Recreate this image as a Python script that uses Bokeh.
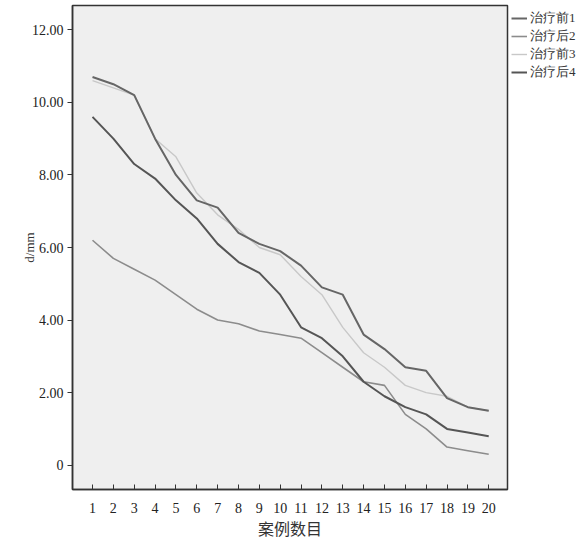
from bokeh.plotting import figure
from bokeh.models import Range1d, FixedTicker, Legend, LegendItem
from bokeh.embed import file_html
from bokeh.resources import INLINE

cases = list(range(1, 21))
pre1 = [10.7, 10.5, 10.2, 9.0, 8.0, 7.3, 7.1, 6.4, 6.1, 5.9, 5.5, 4.9, 4.7, 3.6, 3.2, 2.7, 2.6, 1.85, 1.6, 1.5]
post2 = [6.2, 5.7, 5.4, 5.1, 4.7, 4.3, 4.0, 3.9, 3.7, 3.6, 3.5, 3.1, 2.7, 2.3, 2.2, 1.4, 1.0, 0.5, 0.4, 0.3]
pre3 = [10.6, 10.4, 10.2, 9.0, 8.5, 7.5, 6.9, 6.5, 6.0, 5.8, 5.2, 4.7, 3.8, 3.1, 2.7, 2.2, 2.0, 1.9, 1.6, 1.5]
post4 = [9.6, 9.0, 8.3, 7.9, 7.3, 6.8, 6.1, 5.6, 5.3, 4.7, 3.8, 3.5, 3.0, 2.3, 1.9, 1.6, 1.4, 1.0, 0.9, 0.8]
series_names = ["治疗前1", "治疗后2", "治疗前3", "治疗后4"]
y_ticks = [0, 2, 4, 6, 8, 10, 12]
y_tick_labels = ["0", "2.00", "4.00", "6.00", "8.00", "10.00", "12.00"]

p = figure(frame_width=435, frame_height=484, output_backend="svg", toolbar_location=None,
           x_range=Range1d(0.04, 20.9), y_range=Range1d(-0.67, 12.67),
           min_border_left=72, min_border_right=0, min_border_top=5, min_border_bottom=50)
p.background_fill_color = "#efefef"
p.border_fill_color = "white"
p.outline_line_color = "#333333"
p.outline_line_width = 1.5
p.grid.visible = False

styles = [("#666666", 2.0), ("#8c8c8c", 1.6), ("#c8c8c8", 1.4), ("#555555", 2.0)]
data = [pre1, post2, pre3, post4]
order = [2, 1, 3, 0]
rmap = {}
for i in order:
    c, w = styles[i]
    rmap[i] = p.line(cases, data[i], line_color=c, line_width=w)

legend = Legend(items=[LegendItem(label=series_names[i], renderers=[rmap[i]]) for i in range(4)])
legend.location = "top_left"
legend.margin = 3
legend.padding = 1
legend.spacing = 0
legend.glyph_width = 16
legend.glyph_height = 12
legend.label_height = 12
legend.label_standoff = 3
legend.label_text_font = "Liberation Serif"
legend.label_text_font_size = "13px"
legend.label_text_color = "#333333"
legend.border_line_alpha = 0
legend.background_fill_alpha = 0
p.add_layout(legend, "right")

xa = p.xaxis[0]
xa.ticker = FixedTicker(ticks=cases)
xa.major_tick_in = 5
xa.major_tick_out = 0
xa.minor_tick_line_color = None
xa.axis_line_color = "#333333"
xa.axis_line_width = 1.5
xa.major_tick_line_color = "#333333"
xa.major_label_text_font = "Liberation Serif"
xa.major_label_text_font_size = "14px"
xa.major_label_text_color = "#222222"
xa.major_label_standoff = 13
xa.axis_label = "案例数目"
xa.axis_label_text_font = "Noto Sans CJK SC"
xa.axis_label_text_font_size = "16px"
xa.axis_label_text_font_style = "normal"
xa.axis_label_text_color = "#333333"
xa.axis_label_standoff = 0

ya = p.yaxis[0]
ya.ticker = FixedTicker(ticks=y_ticks)
ya.major_label_overrides = {t: l for t, l in zip(y_ticks, y_tick_labels)}
ya.major_tick_in = 0
ya.major_tick_out = 5
ya.minor_tick_line_color = None
ya.axis_line_color = "#333333"
ya.axis_line_width = 1.5
ya.major_tick_line_color = "#333333"
ya.major_label_text_font = "Liberation Serif"
ya.major_label_text_font_size = "14px"
ya.major_label_text_color = "#222222"
ya.major_label_standoff = 4
ya.axis_label = "d/mm"
ya.axis_label_text_font = "Liberation Serif"
ya.axis_label_text_font_size = "13px"
ya.axis_label_text_font_style = "normal"
ya.axis_label_text_color = "#333333"
ya.axis_label_standoff = -8

open("out.html", "w").write(file_html(p, INLINE))
